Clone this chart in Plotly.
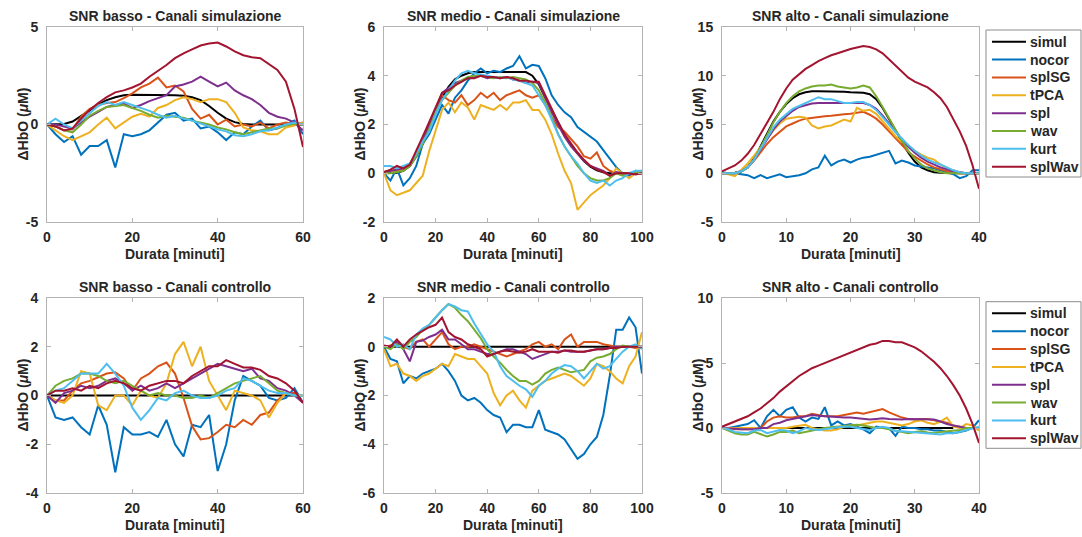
import plotly.graph_objects as go

# ---------------- data ----------------
series_names = ["simul", "nocor", "splSG", "tPCA", "spl", "wav", "kurt", "splWav"]
series_colors = ["#000000", "#0072BD", "#D95319", "#EDB120", "#7E2F8E", "#77AC30", "#4DBEEE", "#A2142F"]

panel_titles = [
    "SNR basso - Canali simulazione", "SNR medio - Canali simulazione", "SNR alto - Canali simulazione",
    "SNR basso - Canali controllo", "SNR medio - Canali controllo", "SNR alto - Canali controllo",
]
x_title = "Durata [minuti]"
y_title = "ΔHbO (<i>μ</i>M)"

# time grids (minutes)
t_basso = [0, 2, 4, 6, 8, 10, 12, 14, 16, 18, 20, 22, 24, 26, 28, 30, 32, 34, 36, 38, 40,
           42, 44, 46, 48, 50, 52, 54, 56, 58, 60]
t_medio = [0, 2.5, 5, 7.5, 10, 12.5, 15, 17.5, 20, 22.5, 25, 27.5, 30, 32.5, 35, 37.5, 40,
           42.5, 45, 47.5, 50, 52.5, 55, 57.5, 60, 62.5, 65, 67.5, 70, 72.5, 75, 77.5, 80,
           82.5, 85, 87.5, 90, 92.5, 95, 97.5, 100]
t_alto = [0, 1, 2, 3, 4, 5, 6, 7, 8, 9, 10, 11, 12, 13, 14, 15, 16, 17, 18, 19, 20,
          21, 22, 23, 24, 25, 26, 27, 28, 29, 30, 31, 32, 33, 34, 35, 36, 37, 38, 39, 40]

# --- panel 1: SNR basso, simulation channels ---
p1_simul = [0, 0.0, 0.03, 0.15, 0.42, 0.72, 1.02, 1.25, 1.4, 1.5, 1.52, 1.52, 1.52, 1.52, 1.52, 1.5,
            1.48, 1.4, 1.25, 0.95, 0.6, 0.3, 0.12, 0.03, 0, 0, 0, 0, 0, 0, 0]
p1_nocor = [0, -0.5, -0.9, -0.6, -1.55, -1.1, -1.1, -0.8, -2.2, -0.5, -0.6, -0.5, -0.3, 0.1, 0.5, 0.6,
            0.2, 0.3, -0.2, -0.1, -0.4, -0.8, -0.4, -0.5, -0.1, 0.2, -0.3, -0.2, 0.0, 0.2, -0.5]
p1_splSG = [0, -0.1, -0.3, -0.25, 0.4, 0.8, 1.0, 1.1, 1.15, 1.35, 1.6, 1.9, 2.1, 2.4, 1.9, 2.0,
            1.7, 0.8, 0.3, 0.5, 0.0, 0.25, -0.1, 0.0, -0.1, 0.1, -0.2, 0.0, 0.1, 0.0, 0.1]
p1_tPCA = [0, -0.3, -0.6, -0.8, -0.6, -0.4, 0.0, 0.35, -0.2, 0.1, 0.4, 0.55, 0.4, 0.85, 1.0, 1.25,
           1.4, 1.3, 1.15, 1.3, 1.3, 1.15, 0.6, -0.15, -0.3, -0.35, -0.5, -0.5, -0.15, -0.05, 0.1]
p1_spl = [0, 0.0, -0.1, -0.2, 0.1, 0.4, 0.65, 0.9, 1.0, 1.07, 0.85, 1.0, 1.2, 1.35, 1.5, 1.95,
          2.05, 2.2, 2.45, 2.2, 1.95, 2.15, 1.75, 1.5, 1.3, 1.0, 0.6, 0.4, 0.3, 0.1, -0.3]
p1_wav = [0, -0.1, -0.3, -0.4, 0.0, 0.45, 0.7, 0.9, 0.95, 1.0, 0.85, 0.7, 0.5, 0.35, 0.45, 0.4,
          0.35, 0.2, 0.1, 0.0, -0.15, -0.25, -0.4, -0.5, -0.4, -0.3, -0.2, -0.2, -0.05, 0.05, 0.0]
p1_kurt = [0, 0.3, 0.0, -0.2, 0.2, 0.6, 0.95, 1.15, 1.0, 1.15, 1.0, 0.85, 0.7, 0.5, 0.35, 0.45,
           0.3, 0.2, 0.05, -0.1, -0.25, -0.35, -0.55, -0.6, -0.5, -0.35, -0.3, -0.15, 0.0, 0.1, 0.0]
p1_splWav = [0, -0.1, -0.3, -0.2, 0.3, 0.75, 1.1, 1.4, 1.65, 1.75, 1.9, 2.1, 2.45, 2.75, 3.05, 3.4,
             3.65, 3.85, 4.05, 4.15, 4.2, 4.0, 3.75, 3.55, 3.45, 3.4, 3.1, 2.8, 2.2, 0.8, -1.15]

# --- panel 2: SNR medio, simulation channels ---
p2_simul = [0, 0, 0.02, 0.1, 0.3, 0.7, 1.2, 1.85, 2.5, 3.1, 3.55, 3.85, 4.0, 4.1, 4.15, 4.15, 4.15,
            4.15, 4.15, 4.15, 4.15, 4.15, 4.15, 4.0, 3.65, 3.1, 2.6, 2.05, 1.55, 1.15, 0.8, 0.5, 0.27,
            0.12, 0.04, 0.0, 0.0, 0.0, 0.0, 0.0, 0.0]
p2_nocor = [0.0, -0.3, 0.2, -0.5, -0.2, 0.3, 1.2, 1.6, 2.2, 2.8, 2.45, 3.1, 3.4, 3.8, 4.1, 4.3, 4.1,
            4.2, 4.15, 4.3, 4.4, 4.8, 4.3, 4.45, 4.4, 3.9, 3.2, 2.8, 2.5, 2.3, 1.9, 1.7, 1.5,
            1.3, 0.95, 0.6, 0.25, 0.0, -0.1, 0.1, 0.05]
p2_splSG = [0.05, 0.1, 0.1, 0.2, 0.4, 0.8, 1.3, 1.9, 2.6, 3.2, 3.0, 2.9, 3.2, 2.8, 3.0, 3.3, 3.1,
            3.3, 3.0, 3.2, 3.3, 3.4, 3.2, 3.1, 3.2, 2.8, 2.3, 1.9, 1.7, 1.4, 1.1, 0.7, 0.6,
            0.85, 0.3, 0.1, 0.0, 0.0, 0.0, 0.0, 0.0]
p2_tPCA = [0.0, -0.7, -0.9, -0.8, -0.7, -0.4, -0.1, 0.9, 1.8, 2.6, 2.9, 2.5, 2.9, 2.7, 2.2, 2.8, 2.7,
           2.6, 2.8, 2.6, 2.9, 2.9, 3.0, 2.6, 2.6, 2.2, 1.6, 0.8, 0.1, -0.4, -1.5, -1.2, -0.9,
           -0.7, -0.5, -0.2, 0.2, 0.0, -0.2, 0.0, 0.1]
p2_spl = [0.05, 0.1, 0.15, 0.2, 0.3, 0.7, 1.3, 2.0, 2.6, 3.3, 3.5, 3.7, 3.8, 3.9, 3.95, 4.0, 3.9,
          3.95, 3.9, 3.95, 3.85, 3.8, 3.7, 3.75, 3.7, 3.1, 2.5, 2.0, 1.5, 1.1, 0.8, 0.5, 0.3,
          0.2, 0.1, -0.1, 0.05, 0.0, -0.05, 0.0, 0.0]
p2_wav = [0.0, 0.0, 0.05, 0.1, 0.3, 0.7, 1.2, 1.8, 2.5, 3.0, 3.3, 3.6, 3.8, 3.95, 4.0, 4.0, 3.95,
          3.9, 3.95, 3.9, 3.95, 3.9, 3.85, 3.7, 3.4, 2.9, 2.3, 1.6, 1.1, 0.7, 0.3, 0.0, -0.2,
          -0.3, -0.3, -0.2, 0.0, -0.1, 0.0, 0.05, 0.0]
p2_kurt = [0.3, 0.3, 0.2, 0.3, 0.4, 0.8, 1.3, 1.7, 2.4, 3.0, 3.4, 3.8, 4.1, 4.2, 4.1, 4.05, 4.0,
           3.95, 3.9, 3.95, 3.85, 3.8, 3.7, 3.6, 3.2, 2.8, 2.2, 1.6, 1.1, 0.7, 0.4, 0.0, -0.3,
           -0.4, -0.3, -0.5, -0.3, -0.2, 0.0, 0.1, 0.1]
p2_splWav = [0.05, 0.15, 0.3, 0.2, 0.35, 0.9, 1.5, 2.1, 2.7, 3.3, 3.4, 3.6, 3.75, 3.9, 3.9, 4.0, 3.95,
             3.95, 3.9, 3.95, 3.9, 3.8, 3.8, 3.75, 3.75, 3.2, 2.6, 2.1, 1.6, 1.2, 0.85, 0.55, 0.3,
             0.15, 0.05, -0.1, 0.0, 0.0, 0.0, -0.05, 0.0]

# --- panel 3: SNR alto, simulation channels ---
p3_simul = [0, 0.0, 0.05, 0.2, 0.6, 1.5, 2.8, 4.1, 5.3, 6.3, 7.1, 7.7, 8.1, 8.3, 8.4, 8.4, 8.4, 8.4,
            8.35, 8.35, 8.3, 8.3, 8.25, 8.1, 7.6, 6.7, 5.6, 4.4, 3.2, 2.1, 1.2, 0.6, 0.3, 0.1, 0.05,
            0.0, 0.0, 0.0, 0.0, 0.0, 0.0]
p3_nocor = [0.1, 0.0, 0.0, -0.1, -0.2, -0.5, -0.2, -0.5, -0.3, -0.1, -0.4, -0.3, -0.2, 0.0, 0.4, 0.6,
            1.8, 0.8, 1.2, 1.4, 1.1, 1.4, 1.6, 1.7, 1.9, 2.1, 2.3, 1.0, 1.3, 1.1, 0.8, 0.7, 0.6, 0.5,
            0.3, 0.1, -0.1, -0.5, -0.3, 0.3, 0.3]
p3_splSG = [0, 0.0, 0.0, 0.2, 0.6, 1.3, 2.2, 3.0, 3.7, 4.3, 4.8, 5.1, 5.4, 5.6, 5.7, 5.8, 5.85, 5.9,
            6.0, 6.05, 6.1, 6.2, 6.3, 6.0, 5.6, 5.0, 4.3, 3.5, 2.8, 2.2, 1.7, 1.3, 0.9, 0.6, 0.4,
            0.2, 0.1, 0.0, 0.0, 0.05, 0.0]
p3_tPCA = [0, -0.1, -0.3, 0.3, 1.0, 1.8, 2.6, 3.5, 4.4, 5.1, 5.6, 5.7, 5.8, 5.7, 4.9, 4.6, 4.8, 4.9,
           5.2, 5.5, 5.3, 6.7, 6.4, 6.5, 6.1, 5.3, 4.5, 3.8, 3.2, 2.8, 2.3, 1.9, 1.6, 1.4, 0.9,
           0.5, 0.3, 0.1, 0.0, 0.0, 0.0]
p3_spl = [0, 0.0, 0.0, 0.2, 0.6, 1.4, 2.4, 3.5, 4.5, 5.3, 5.9, 6.4, 6.8, 7.0, 7.15, 7.2, 7.2, 7.2,
          7.2, 7.2, 7.2, 7.2, 7.2, 7.0, 6.6, 5.9, 5.1, 4.2, 3.4, 2.7, 2.1, 1.6, 1.2, 0.9, 0.6,
          0.4, 0.2, 0.1, 0.0, 0.0, 0.0]
p3_wav = [0, 0.0, 0.0, 0.2, 0.6, 1.4, 2.6, 3.9, 5.2, 6.3, 7.2, 7.9, 8.4, 8.7, 8.9, 9.0, 9.0, 9.1,
          8.9, 8.8, 8.7, 8.8, 9.0, 8.8, 7.9, 6.8, 5.6, 4.4, 3.3, 2.3, 1.5, 0.9, 0.5, 0.3, 0.1,
          0.0, 0.0, 0.0, 0.0, 0.0, 0.0]
p3_kurt = [0, 0.0, 0.0, 0.2, 0.6, 1.4, 2.5, 3.7, 4.7, 5.5, 6.1, 6.6, 6.9, 7.2, 7.5, 7.8, 7.6, 7.6,
           7.4, 7.2, 7.2, 7.3, 7.3, 7.0, 6.5, 5.8, 5.0, 4.2, 3.5, 2.9, 2.3, 1.8, 1.4, 1.1, 0.9,
           0.6, 0.3, 0.1, 0.0, 0.0, 0.0]
p3_splWav = [0.2, 0.5, 0.8, 1.3, 2.0, 2.9, 4.0, 5.1, 6.3, 7.6, 8.7, 9.6, 10.2, 10.7, 11.1, 11.5, 11.8,
             12.1, 12.3, 12.55, 12.75, 12.9, 13.05, 12.95, 12.7, 12.3, 11.7, 11.1, 10.4, 9.8, 9.4,
             9.1, 8.8, 8.3, 7.7, 6.8, 5.6, 4.3, 2.8, 0.8, -1.6]

# --- panel 4: SNR basso, control channels ---
t_simul_basso_ctrl = [0, 58]
p4_simul = [0.0, 0.0]
p4_nocor = [0, -0.9, -1.0, -0.9, -1.3, -1.6, -0.4, -1.2, -3.15, -1.3, -1.6, -1.6, -1.5, -1.7, -1.0, -2.0,
            -2.5, -1.2, -1.3, -0.8, -3.1, -2.0, -0.2, 0.8, 0.6, 0.4, -0.1, -0.2, -0.1, 0.3, -0.3]
p4_splSG = [0, -0.2, -0.2, 0.2, 0.5, 0.6, 0.75, 0.9, 0.95, 0.7, 0.2, 0.7, 0.9, 1.2, 1.35, 0.9,
            -0.1, -1.25, -1.8, -1.75, -1.5, -1.2, -1.3, -1.0, -1.2, -0.8, -0.7, -0.2, 0.1, 0.1, -0.3]
p4_tPCA = [0, -0.2, -0.3, 0.0, 1.0, 0.9, -0.4, -0.6, 0.0, 0.0, -0.4, 0.2, 0.0, -0.1, 0.5, 1.7,
           2.2, 1.2, 2.0, 0.6, 0.0, -0.6, 0.2, 0.1, 0.0, -0.2, -0.9, -0.3, 0.1, 0.0, 0.0]
p4_spl = [0, -0.3, 0.1, 0.2, 0.4, 0.3, 0.4, 0.6, 0.7, 0.5, 0.2, 0.4, 0.2, 0.3, 0.5, 0.3,
          0.5, 0.7, 0.9, 1.1, 1.3, 1.2, 1.1, 1.0, 1.1, 0.7, 0.6, 0.3, 0.2, 0.0, -0.3]
p4_wav = [0, 0.4, 0.6, 0.7, 0.9, 0.9, 0.8, 0.6, 0.5, 0.6, 0.4, 0.2, 0.0, 0.1, 0.0, 0.0,
          -0.1, -0.1, 0.0, -0.1, 0.1, 0.3, 0.5, 0.6, 0.7, 0.8, 0.5, 0.2, 0.1, 0.0, 0.0]
p4_kurt = [0, 0.2, 0.3, 0.6, 0.9, 0.9, 0.9, 1.3, 0.9, 0.4, -0.5, -1.0, -0.6, -0.1, -0.2, 0.1,
           0.2, 0.0, -0.1, -0.1, 0.0, 0.2, 0.3, 0.7, 0.6, 0.4, 0.2, 0.1, 0.1, 0.0, 0.0]
p4_splWav = [0, 0.2, 0.2, 0.3, 0.2, 0.4, 0.3, 0.5, 0.6, 0.5, 0.3, 0.2, 0.4, 0.5, 0.6, 0.6,
             0.5, 0.8, 1.0, 1.2, 1.2, 1.45, 1.3, 1.15, 1.15, 1.05, 0.8, 0.7, 0.5, 0.2, -0.3]

# --- panel 5: SNR medio, control channels ---
t_simul_medio_ctrl = [0, 95]
p5_simul = [0.0, 0.0]
p5_nocor = [0.0, -0.5, -0.6, -1.5, -1.2, -1.3, -1.1, -1.0, -0.9, -0.7, -1.0, -1.4, -2.0, -2.2, -2.1,
            -2.3, -2.6, -2.8, -2.9, -3.5, -3.2, -3.2, -3.3, -3.3, -2.6, -3.4, -3.5, -3.6, -3.8, -4.2,
            -4.6, -4.4, -4.0, -3.7, -2.8, -1.2, 0.7, 0.7, 1.2, 0.8, -1.1]
p5_splSG = [0.0, 0.05, 0.1, 0.0, -0.1, 0.2, 0.3, 0.0, 0.3, 0.6, 0.1, -0.1, 0.0, 0.0, 0.1, 0.0, -0.1,
            -0.2, -0.3, -0.4, -0.3, -0.2, -0.1, 0.1, 0.2, 0.0, 0.1, -0.1, 0.3, 0.5, 0.0, 0.2, 0.2,
            0.2, 0.1, 0.05, 0.0, 0.0, 0.0, -0.05, 0.0]
p5_tPCA = [-0.1, -0.8, -0.7, -1.1, -1.2, -1.4, -1.2, -1.1, -0.9, -0.7, -0.8, -0.3, -0.4, -0.5, -0.5,
           -0.8, -1.1, -1.9, -2.4, -2.0, -1.8, -2.2, -2.5, -1.8, -1.6, -1.4, -1.3, -1.2, -1.1, -1.2,
           -1.4, -1.6, -1.3, -0.7, -0.8, -1.0, -1.3, -1.5, -0.8, -0.4, 0.6]
p5_spl = [0.0, 0.0, 0.2, -0.1, -0.6, 0.2, 0.25, 0.4, 0.5, 0.7, 0.3, 0.3, 0.1, -0.1, -0.1, -0.2, -0.3,
          -0.3, -0.2, -0.1, -0.1, -0.2, -0.3, -0.5, -0.4, -0.3, -0.2, -0.2, -0.15, -0.2, -0.2, -0.2,
          -0.15, -0.1, -0.1, -0.05, 0.0, 0.0, 0.0, 0.0, 0.0]
p5_wav = [0.0, -0.1, 0.1, -0.1, 0.2, 0.4, 0.7, 0.9, 1.2, 1.5, 1.75, 1.6, 1.3, 1.05, 0.7, 0.35, -0.1,
          -0.4, -0.65, -0.95, -1.2, -1.4, -1.4, -1.55, -1.4, -1.1, -0.95, -0.85, -0.95, -1.05, -1.0,
          -0.95, -0.6, -0.45, -0.4, -0.3, -0.1, 0.05, 0.0, 0.0, 0.0]
p5_kurt = [0.4, 0.3, 0.0, 0.1, -0.1, 0.5, 0.75, 0.9, 1.2, 1.5, 1.75, 1.65, 1.5, 1.45, 0.95, 0.5, 0.1,
           -0.2, -0.8, -1.2, -1.4, -1.6, -1.75, -2.05, -1.6, -1.4, -1.1, -0.9, -0.75, -0.8, -1.0,
           -1.3, -1.0, -0.7, -0.9, -0.8, -0.5, -0.2, 0.0, 0.1, -0.1]
p5_splWav = [0.05, 0.0, 0.3, 0.0, 0.3, 0.5, 0.65, 0.8, 0.9, 1.2, 0.6, 0.4, 0.3, 0.1, 0.0, -0.1, -0.4,
             -0.3, -0.2, -0.15, -0.2, -0.25, -0.2, -0.1, -0.2, -0.2, -0.2, -0.25, -0.15, -0.15, -0.2,
             -0.2, -0.15, -0.1, -0.1, -0.05, -0.05, 0.0, 0.0, 0.0, 0.0]

# --- panel 6: SNR alto, control channels ---
t_simul_alto_ctrl = [0, 36]
p6_simul = [0.0, 0.0]
p6_nocor = [0.0, 0.0, 0.1, 0.2, 0.3, 0.6, 0.0, 0.9, 1.4, 0.9, 1.4, 1.6, 0.8, 0.5, 0.8, 0.7, 1.6, 0.2,
            0.5, 0.2, 0.3, 0.1, -0.1, -0.4, 0.1, 0.0, 0.0, -0.6, 0.1, 0.0, 0.0, -0.1, -0.1, -0.2,
            -0.2, -0.3, -0.4, -0.3, -0.2, 0.0, 0.6]
p6_splSG = [0.0, 0.0, -0.1, -0.1, -0.1, -0.1, 0.0, 0.5, 0.8, 0.9, 0.8, 0.8, 0.9, 0.9, 1.1, 1.0, 0.9,
            0.9, 0.9, 1.0, 1.1, 1.2, 1.1, 1.2, 1.3, 1.45, 1.2, 1.0, 0.8, 0.7, 0.65, 0.7, 0.7, 0.6,
            0.5, 0.4, 0.2, 0.1, 0.0, 0.0, 0.0]
p6_tPCA = [0.0, 0.0, 0.0, 0.0, 0.0, 0.0, 0.0, 0.0, 0.0, 0.0, 0.0, 0.1, 0.2, 0.25, 0.0, -0.1, -0.2,
           -0.2, -0.1, 0.1, 0.2, 0.2, 0.3, 0.4, 0.5, 0.5, 0.4, 0.3, 0.2, 0.3, 0.5, 0.6, 0.4, 0.3,
           0.5, 0.8, 0.1, 0.0, 0.3, 0.2, -0.2]
p6_spl = [0.0, 0.0, -0.05, -0.1, -0.1, -0.1, 0.0, 0.0, 0.3, 0.4, 0.6, 0.7, 0.8, 0.95, 1.0, 0.95, 0.9,
          0.9, 0.85, 0.8, 0.8, 0.75, 0.7, 0.65, 0.7, 0.75, 0.7, 0.65, 0.65, 0.7, 0.7, 0.7, 0.7, 0.65,
          0.5, 0.3, 0.2, 0.1, 0.0, 0.0, 0.0]
p6_wav = [0.0, -0.2, -0.4, -0.5, -0.5, -0.3, -0.5, -0.65, -0.5, -0.3, -0.3, -0.2, -0.4, -0.3, -0.15,
          -0.1, 0.0, 0.05, 0.1, 0.15, 0.2, 0.25, 0.2, 0.1, 0.0, 0.0, -0.1, -0.2, -0.3, -0.4, -0.3,
          -0.25, -0.35, -0.4, -0.3, -0.25, -0.2, -0.15, 0.0, 0.0, 0.0]
p6_kurt = [0.0, -0.1, -0.3, -0.35, -0.4, -0.2, -0.15, -0.4, -0.3, -0.15, -0.2, -0.4, -0.25, 0.0, -0.1,
           -0.15, -0.1, 0.0, 0.05, 0.1, 0.1, 0.0, -0.1, -0.15, 0.0, 0.1, 0.0, -0.25, -0.25, -0.3, -0.3,
           -0.35, -0.4, -0.5, -0.5, -0.4, -0.4, -0.3, -0.15, 0.0, 0.1]
p6_splWav = [0.1, 0.3, 0.5, 0.7, 0.9, 1.2, 1.5, 1.9, 2.3, 2.8, 3.2, 3.6, 4.0, 4.3, 4.6, 4.8, 5.0, 5.2,
             5.4, 5.6, 5.8, 6.0, 6.2, 6.4, 6.5, 6.7, 6.7, 6.6, 6.6, 6.4, 6.2, 5.9, 5.5, 5.1, 4.6, 4.0,
             3.3, 2.5, 1.5, 0.3, -1.15]

# axis ranges and ticks
x_ranges = [[0, 60], [0, 100], [0, 40], [0, 60], [0, 100], [0, 40]]
x_tickvals = [[0, 20, 40, 60], [0, 20, 40, 60, 80, 100], [0, 10, 20, 30, 40],
              [0, 20, 40, 60], [0, 20, 40, 60, 80, 100], [0, 10, 20, 30, 40]]
y_ranges = [[-5, 5], [-2, 6], [-5, 15], [-4, 4], [-6, 2], [-5, 10]]
y_tickvals = [[-5, 0, 5], [-2, 0, 2, 4, 6], [-5, 0, 5, 10, 15],
              [-4, -2, 0, 2, 4], [-6, -4, -2, 0, 2], [-5, 0, 5, 10]]

panels = [
    ([t_basso] * 8, [p1_simul, p1_nocor, p1_splSG, p1_tPCA, p1_spl, p1_wav, p1_kurt, p1_splWav]),
    ([t_medio] * 8, [p2_simul, p2_nocor, p2_splSG, p2_tPCA, p2_spl, p2_wav, p2_kurt, p2_splWav]),
    ([t_alto] * 8, [p3_simul, p3_nocor, p3_splSG, p3_tPCA, p3_spl, p3_wav, p3_kurt, p3_splWav]),
    ([t_simul_basso_ctrl] + [t_basso] * 7,
     [p4_simul, p4_nocor, p4_splSG, p4_tPCA, p4_spl, p4_wav, p4_kurt, p4_splWav]),
    ([t_simul_medio_ctrl] + [t_medio] * 7,
     [p5_simul, p5_nocor, p5_splSG, p5_tPCA, p5_spl, p5_wav, p5_kurt, p5_splWav]),
    ([t_simul_alto_ctrl] + [t_alto] * 7,
     [p6_simul, p6_nocor, p6_splSG, p6_tPCA, p6_spl, p6_wav, p6_kurt, p6_splWav]),
]

# ---------------- layout geometry (pixels) ----------------
W, H = 1082, 537
col_px = [(47, 303), (384, 642), (722, 979)]
row_px = [(27, 222), (298, 493)]
ytitle_offset_px = 25
xtitle_offset_px = 32

FONT = "Liberation Sans, Arial, Helvetica, sans-serif"
frame_col = "#b3b3b3"
text_col = "#262626"
bold14 = dict(family=FONT, size=14, color=text_col, weight="bold")

fig = go.Figure()
annotations = []
shapes = []

for p, (xs_list, ys_list) in enumerate(panels):
    idx = p + 1
    xa = "x" if idx == 1 else f"x{idx}"
    ya = "y" if idx == 1 else f"y{idx}"
    for k in range(8):
        fig.add_trace(go.Scatter(
            x=xs_list[k], y=ys_list[k], mode="lines", name=series_names[k],
            line=dict(color=series_colors[k], width=2),
            xaxis=xa, yaxis=ya, showlegend=False, hoverinfo="skip",
        ))

    c = p % 3
    r = p // 3
    x0, x1 = col_px[c]
    y0, y1 = row_px[r]
    xdom = [x0 / W, x1 / W]
    ydom = [1 - y1 / H, 1 - y0 / H]
    common = dict(showline=True, mirror="ticks", linecolor=frame_col, linewidth=1,
                  ticks="inside", ticklen=4, tickcolor=frame_col, tickwidth=1,
                  showgrid=False, zeroline=False, tickfont=bold14, automargin=False)
    xkey = "xaxis" if idx == 1 else f"xaxis{idx}"
    ykey = "yaxis" if idx == 1 else f"yaxis{idx}"
    fig.layout[xkey] = dict(
        domain=xdom, range=x_ranges[p], anchor=ya,
        tickvals=x_tickvals[p], ticktext=[str(v) for v in x_tickvals[p]],
        ticklabelstandoff=2,
        **common)
    fig.layout[ykey] = dict(
        domain=ydom, range=y_ranges[p], anchor=xa,
        tickvals=y_tickvals[p], ticktext=[str(v) for v in y_tickvals[p]],
        ticklabelstandoff=5,
        **common)
    # panel title
    annotations.append(dict(
        text=panel_titles[p], xref="paper", yref="paper",
        x=(xdom[0] + xdom[1]) / 2, y=ydom[1], xanchor="center", yanchor="bottom",
        yshift=1, showarrow=False, font=bold14))
    # x-axis title
    annotations.append(dict(
        text=x_title, xref="paper", yref="paper",
        x=(xdom[0] + xdom[1]) / 2, y=1 - (y1 + xtitle_offset_px) / H,
        xanchor="center", yanchor="middle", showarrow=False, font=bold14))
    # y-axis title
    annotations.append(dict(
        text=y_title, xref="paper", yref="paper", textangle=-90,
        x=(x0 - ytitle_offset_px) / W, y=(ydom[0] + ydom[1]) / 2,
        xanchor="center", yanchor="middle", showarrow=False, font=bold14))

# ---------------- legends (one per row, right of the 3rd column) ----------------
leg_left_px, leg_right_px = 986, 1081
leg_line_px = (992, 1026)
leg_text_px = 1028
leg_row_step = 17.86
leg_blocks = [(30, 177, 41.7), (301.7, 448.3, 313.3)]  # box top, box bottom, first row centre

for (top, bottom, first) in leg_blocks:
    shapes.append(dict(type="rect", xref="paper", yref="paper",
                       x0=leg_left_px / W, x1=leg_right_px / W,
                       y0=1 - bottom / H, y1=1 - top / H,
                       line=dict(color="#8c8c8c", width=1), fillcolor="white", layer="above"))
    for k, name in enumerate(series_names):
        yc = 1 - (first + k * leg_row_step) / H
        shapes.append(dict(type="line", xref="paper", yref="paper",
                           x0=leg_line_px[0] / W, x1=leg_line_px[1] / W, y0=yc, y1=yc,
                           line=dict(color=series_colors[k], width=2), layer="above"))
        annotations.append(dict(text=name, xref="paper", yref="paper",
                                x=leg_text_px / W, y=yc, xanchor="left", yanchor="middle",
                                showarrow=False, font=bold14))

fig.update_layout(
    width=W, height=H, autosize=False,
    margin=dict(l=0, r=0, t=0, b=0, autoexpand=False),
    paper_bgcolor="white", plot_bgcolor="white",
    font=bold14, showlegend=False,
    annotations=annotations, shapes=shapes,
)

fig.write_html("out.html")
